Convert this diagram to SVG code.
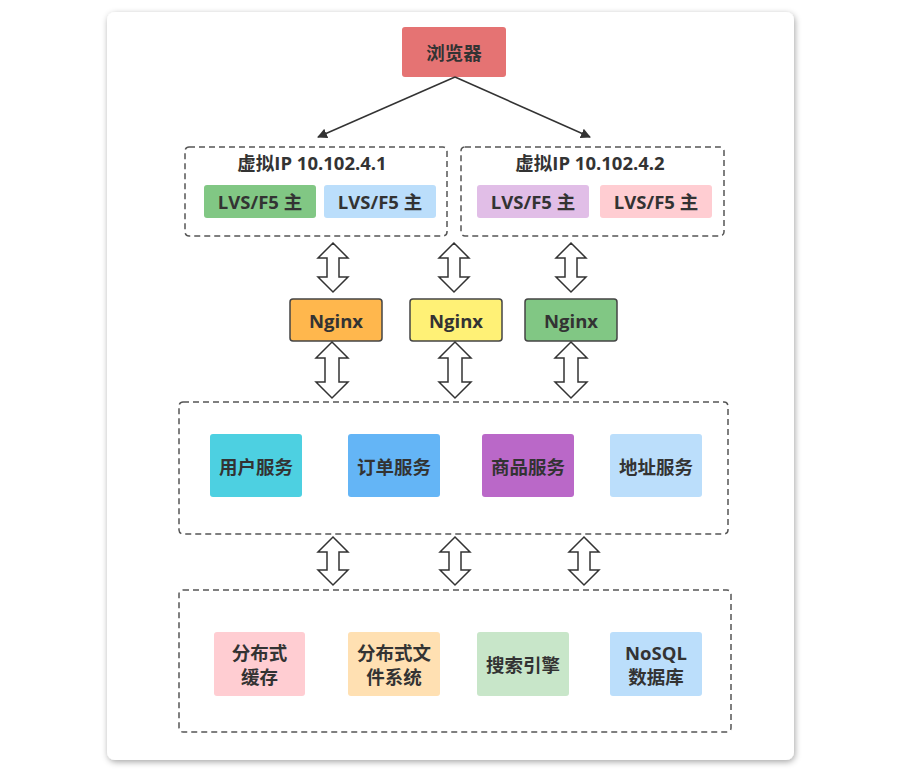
<svg xmlns="http://www.w3.org/2000/svg" width="924" height="773" viewBox="0 0 924 773">
<defs>
<filter id="sh" x="-5%" y="-5%" width="110%" height="110%">
<feDropShadow dx="1" dy="2" stdDeviation="3" flood-color="#000" flood-opacity="0.35"/>
</filter>
<marker id="ah" viewBox="0 0 10 10" refX="9" refY="5" markerWidth="10" markerHeight="10" markerUnits="userSpaceOnUse" orient="auto">
<path d="M0,0 L10,5 L0,10 Z" fill="#333"/>
</marker>
<style>
text{font-family:"Open Sans","Noto Sans CJK SC",sans-serif;font-weight:bold;fill:#333;text-anchor:middle;dominant-baseline:central}
.t{font-size:18.5px}
.n{font-size:18.5px}
.box{stroke:none}
.grp{fill:none;stroke:#555;stroke-width:1.5;stroke-dasharray:6 4}
.ng{stroke:#444;stroke-width:1.5}
.dbl{fill:#fff;stroke:#333;stroke-width:1.5;stroke-linejoin:miter}
.ln{stroke:#333;stroke-width:1.5;fill:none}
</style>
</defs>
<rect width="924" height="773" fill="#fff"/>
<rect x="107" y="12" width="687" height="748" rx="8" fill="#fff" filter="url(#sh)"/>

<g id="browser"><rect class="box" x="402" y="27" width="104" height="50" rx="3" fill="#e57373"/><text class="t" x="454" y="52">浏览器</text></g>

<g id="vip1"><rect class="grp" x="185" y="147" width="262" height="89" rx="4"/><text class="t" x="312" y="162">虚拟IP 10.102.4.1</text></g>
<g id="lvs1"><rect class="box" x="204" y="185" width="112" height="33" rx="3" fill="#81c784"/><text class="t" x="260" y="201">LVS/F5 主</text></g>
<g id="lvs2"><rect class="box" x="324" y="185" width="112" height="33" rx="3" fill="#bbdefb"/><text class="t" x="380" y="201">LVS/F5 主</text></g>
<g id="vip2"><rect class="grp" x="461" y="147" width="263" height="89" rx="4"/><text class="t" x="590" y="162">虚拟IP 10.102.4.2</text></g>
<g id="lvs3"><rect class="box" x="477" y="185" width="112" height="33" rx="3" fill="#e1bee7"/><text class="t" x="533" y="201">LVS/F5 主</text></g>
<g id="lvs4"><rect class="box" x="600" y="185" width="112" height="33" rx="3" fill="#ffcdd2"/><text class="t" x="656" y="201">LVS/F5 主</text></g>

<g id="nginx1"><rect class="ng" x="290" y="299" width="92" height="42" rx="3" fill="#ffb74d"/><text class="n" x="336" y="320">Nginx</text></g>
<g id="nginx2"><rect class="ng" x="410" y="299" width="92" height="42" rx="3" fill="#fff176"/><text class="n" x="456" y="320">Nginx</text></g>
<g id="nginx3"><rect class="ng" x="525" y="299" width="92" height="42" rx="3" fill="#81c784"/><text class="n" x="571" y="320">Nginx</text></g>

<g id="services"><rect class="grp" x="179" y="402" width="549" height="132" rx="4"/></g>
<g id="svc1"><rect class="box" x="210" y="434" width="92" height="63" rx="3" fill="#4dd0e1"/><text class="t" x="256" y="466">用户服务</text></g>
<g id="svc2"><rect class="box" x="348" y="434" width="92" height="63" rx="3" fill="#64b5f6"/><text class="t" x="394" y="466">订单服务</text></g>
<g id="svc3"><rect class="box" x="482" y="434" width="92" height="63" rx="3" fill="#ba68c8"/><text class="t" x="528" y="466">商品服务</text></g>
<g id="svc4"><rect class="box" x="610" y="434" width="92" height="63" rx="3" fill="#bbdefb"/><text class="t" x="656" y="466">地址服务</text></g>

<g id="storage"><rect class="grp" x="179" y="590" width="552" height="142" rx="4"/></g>
<g id="st1"><rect class="box" x="214" y="632" width="91" height="64" rx="3" fill="#ffcdd2"/><text class="t" x="259.5" y="652">分布式</text><text class="t" x="259.5" y="676">缓存</text></g>
<g id="st2"><rect class="box" x="348" y="632" width="92" height="64" rx="3" fill="#ffe0b2"/><text class="t" x="394" y="652">分布式文</text><text class="t" x="394" y="676">件系统</text></g>
<g id="st3"><rect class="box" x="477" y="632" width="92" height="64" rx="3" fill="#c8e6c9"/><text class="t" x="523" y="664">搜索引擎</text></g>
<g id="st4"><rect class="box" x="610" y="632" width="92" height="64" rx="3" fill="#bbdefb"/><text class="t" x="656" y="652">NoSQL</text><text class="t" x="656" y="676">数据库</text></g>

<g id="connectors">
<path class="ln" d="M455,77 L318,137" marker-end="url(#ah)"/>
<path class="ln" d="M455,77 L590,137" marker-end="url(#ah)"/>
<path class="dbl" d="M333,243 L348,258 L339,258 L339,277 L348,277 L333,292 L318,277 L327,277 L327,258 L318,258 Z"/>
<path class="dbl" d="M454,243 L469,258 L460,258 L460,277 L469,277 L454,292 L439,277 L448,277 L448,258 L439,258 Z"/>
<path class="dbl" d="M571,243 L586,258 L577,258 L577,277 L586,277 L571,292 L556,277 L565,277 L565,258 L556,258 Z"/>
<path class="dbl" d="M332,342 L348,358 L339,358 L339,382 L348,382 L332,398 L316,382 L325,382 L325,358 L316,358 Z"/>
<path class="dbl" d="M455,342 L471,358 L462,358 L462,382 L471,382 L455,398 L439,382 L448,382 L448,358 L439,358 Z"/>
<path class="dbl" d="M571,342 L587,358 L578,358 L578,382 L587,382 L571,398 L555,382 L564,382 L564,358 L555,358 Z"/>
<path class="dbl" d="M333,537 L348,552 L339,552 L339,570 L348,570 L333,585 L318,570 L327,570 L327,552 L318,552 Z"/>
<path class="dbl" d="M455,537 L470,552 L461,552 L461,570 L470,570 L455,585 L440,570 L449,570 L449,552 L440,552 Z"/>
<path class="dbl" d="M584,537 L599,552 L590,552 L590,570 L599,570 L584,585 L569,570 L578,570 L578,552 L569,552 Z"/>
</g>
</svg>
